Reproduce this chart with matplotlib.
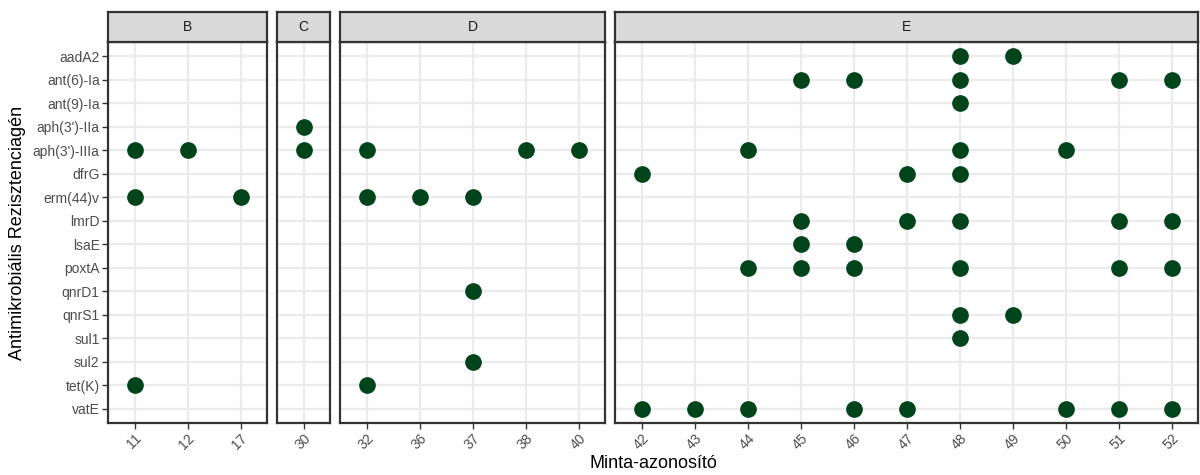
import numpy as np
import matplotlib.pyplot as plt

plt.rcParams['font.family'] = ['Liberation Sans', 'DejaVu Sans']

genes = ["aadA2", "ant(6)-Ia", "ant(9)-Ia", "aph(3')-IIa", "aph(3')-IIIa",
         "dfrG", "erm(44)v", "lmrD", "lsaE", "poxtA", "qnrD1", "qnrS1",
         "sul1", "sul2", "tet(K)", "vatE"]

groups = ["B", "C", "D", "E"]
group_samples = [
    ["11", "12", "17"],
    ["30"],
    ["32", "36", "37", "38", "40"],
    ["42", "43", "44", "45", "46", "47", "48", "49", "50", "51", "52"],
]

# samples carrying each gene
aadA2 = ["48", "49"]
ant6_Ia = ["45", "46", "48", "51", "52"]
ant9_Ia = ["48"]
aph3_IIa = ["30"]
aph3_IIIa = ["11", "12", "30", "32", "38", "40", "44", "48", "50"]
dfrG = ["42", "47", "48"]
erm44v = ["11", "17", "32", "36", "37"]
lmrD = ["45", "47", "48", "51", "52"]
lsaE = ["45", "46"]
poxtA = ["44", "45", "46", "48", "51", "52"]
qnrD1 = ["37"]
qnrS1 = ["48", "49"]
sul1 = ["48"]
sul2 = ["37"]
tetK = ["11", "32"]
vatE = ["42", "43", "44", "46", "47", "50", "51", "52"]

hits = [aadA2, ant6_Ia, ant9_Ia, aph3_IIa, aph3_IIIa, dfrG, erm44v, lmrD,
        lsaE, poxtA, qnrD1, qnrS1, sul1, sul2, tetK, vatE]

W, H = 1200, 475
fig = plt.figure(figsize=(W / 100, H / 100), dpi=100)

unit = 53.0
gap = 10.0
x0 = 108.0
panel_top = 42.0
panel_bottom = 423.0
strip_h = 30.0

border = '#333333'
point_col = '#00441b'
ypos = {g: len(genes) - 1 - i for i, g in enumerate(genes)}

left = x0
for gi, (grp, samples) in enumerate(zip(groups, group_samples)):
    width = unit * len(samples)
    ax = fig.add_axes([left / W, 1 - panel_bottom / H, width / W,
                       (panel_bottom - panel_top) / H])
    xs, ys = [], []
    for g, smp in zip(genes, hits):
        for s in smp:
            if s in samples:
                xs.append(samples.index(s))
                ys.append(ypos[g])
    ax.plot(xs, ys, 'o', color=point_col, markersize=11, zorder=3)

    ax.set_xlim(-0.5, len(samples) - 0.5)
    ax.set_ylim(-0.6, len(genes) - 0.4)
    ax.set_xticks(range(len(samples)))
    ax.set_xticklabels(samples, rotation=45, ha='right', va='top',
                       rotation_mode='anchor', fontsize=10, color='#4d4d4d')
    ax.set_yticks(range(len(genes)))
    ax.grid(True, color='#ebebeb', linewidth=1.6, zorder=0)
    ax.set_axisbelow(True)
    ax.tick_params(axis='both', color=border, length=4, width=1, pad=2)
    if gi == 0:
        ax.set_yticklabels(genes[::-1], fontsize=10, color='#4d4d4d')
    else:
        ax.tick_params(axis='y', length=0, labelleft=False)
    for sp in ax.spines.values():
        sp.set_color(border)
        sp.set_linewidth(1.6)

    # facet strip
    sx = fig.add_axes([left / W, 1 - panel_top / H, width / W, strip_h / H])
    sx.set_facecolor('#d9d9d9')
    sx.set_xticks([])
    sx.set_yticks([])
    for sp in sx.spines.values():
        sp.set_color(border)
        sp.set_linewidth(1.6)
    sx.text(0.5, 0.5, grp, ha='center', va='center', fontsize=10,
            color='#1a1a1a', transform=sx.transAxes)

    left += width + gap

fig.text(x0 / W + (left - gap - x0) / W / 2, 1 - 468 / H, 'Minta-azonosító',
         ha='center', va='baseline', fontsize=13)
fig.text(18 / W, 1 - (panel_top + panel_bottom) / 2 / H,
         'Antimikrobiális Rezisztenciagén', rotation=90,
         ha='center', va='center', fontsize=13)

fig.savefig('out.png', dpi=100)
